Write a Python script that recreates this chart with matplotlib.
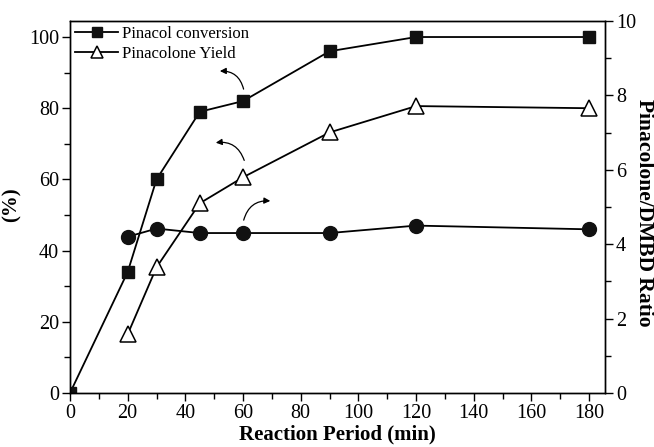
import matplotlib.pyplot as plt
from matplotlib.ticker import MultipleLocator

plt.rcParams['font.family'] = ['Liberation Serif', 'DejaVu Serif']

# Data
conv_time = [0, 20, 30, 45, 60, 90, 120, 180]
conversion = [0, 34, 60, 79, 82, 96, 100, 100]

yield_time = [20, 30, 45, 60, 90, 120, 180]
pinacolone_yield = [16.5, 35.3, 53.3, 60.6, 73.2, 80.6, 80.0]

ratio_time = [20, 30, 45, 60, 90, 120, 180]
ratio = [4.2, 4.42, 4.3, 4.3, 4.3, 4.5, 4.4]

fig = plt.figure(figsize=(6.54, 4.47), dpi=100)
ax = fig.add_axes([70 / 654, 1 - 393 / 447, 535 / 654, 372 / 447])
ax2 = ax.twinx()

ax.plot(conv_time, conversion, color='black', lw=1.3, marker='s', ms=9,
        mfc='#111111', mec='#111111', label='Pinacol conversion')
ax.plot(yield_time, pinacolone_yield, color='black', lw=1.3, marker='^', ms=12,
        mfc='white', mec='black', mew=1.1, label='Pinacolone Yield')
ax2.plot(ratio_time, ratio, color='black', lw=1.3, marker='o', ms=10,
         mfc='#111111', mec='#111111')

ax.set_xlim(0, 185.5)
ax.set_ylim(0, 104.5)
ax2.set_ylim(0, 10)

ax.xaxis.set_major_locator(MultipleLocator(20))
ax.xaxis.set_minor_locator(MultipleLocator(10))
ax.yaxis.set_major_locator(MultipleLocator(20))
ax.yaxis.set_minor_locator(MultipleLocator(10))
ax2.yaxis.set_major_locator(MultipleLocator(2))
ax2.yaxis.set_minor_locator(MultipleLocator(1))

for a in (ax, ax2):
    a.tick_params(which='major', direction='out', length=6, width=1,
                  labelsize=14.5, pad=2)
    a.tick_params(which='minor', direction='out', length=4, width=1)
    for sp in a.spines.values():
        sp.set_linewidth(1)

ax.set_xlabel('Reaction Period (min)', fontsize=15, fontweight='bold', labelpad=1)
ax.set_ylabel('(%)', fontsize=15, fontweight='bold')
ax.yaxis.set_label_coords(-0.09, 0.505)
ax2.set_ylabel('Pinacolone/DMBD Ratio', fontsize=15.5, fontweight='bold',
               rotation=270, va='center')
ax2.yaxis.set_label_coords(1.072, 0.484)

ax.legend(loc='upper left', frameon=False, fontsize=12, handlelength=2.6,
          handletextpad=0.2, borderaxespad=0.0, borderpad=0.3,
          labelspacing=0.25, markerscale=0.75)

# curved arrows pointing to each series' axis
arrow = dict(arrowstyle='-|>', color='black', lw=0.9, mutation_scale=9)
ax.annotate('', xy=(51, 90.4), xytext=(60.4, 84.6),
            arrowprops=dict(arrow, connectionstyle='arc3,rad=0.45'))
ax.annotate('', xy=(49.6, 70.2), xytext=(60.7, 64.6),
            arrowprops=dict(arrow, connectionstyle='arc3,rad=0.45'))
ax.annotate('', xy=(70.4, 53.9), xytext=(60, 47.8),
            arrowprops=dict(arrow, connectionstyle='arc3,rad=-0.45'))

fig.savefig('out.png', dpi=100)
